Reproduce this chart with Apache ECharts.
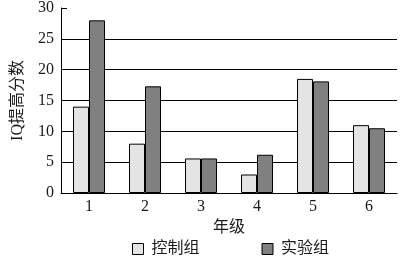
<!DOCTYPE html>
<html><head><meta charset="utf-8">
<script src="https://cdn.jsdelivr.net/npm/echarts@6/dist/echarts.min.js"></script>
<style>html,body{margin:0;padding:0;background:#fff}#c{width:402px;height:256px}</style>
</head><body><div id="c"></div>
<script>
const categories = ['1','2','3','4','5','6'];
const controlGroup = [14, 8, 5.6, 3, 18.5, 11];
const experimentGroup = [28, 17.3, 5.6, 6.2, 18.1, 10.5];
const seriesNames = ['控制组', '实验组'];
const FONT = "'Liberation Serif', 'Noto Sans CJK SC', serif";
const chart = echarts.init(document.getElementById('c'), null, {renderer:'canvas'});
chart.setOption({
  animation:false,
  backgroundColor:'#fff',
  textStyle:{fontFamily:FONT, color:'#1a1a1a'},
  grid:{left:61,right:5,top:7,bottom:63,containLabel:false},
  legend:{
    top:236, left:127,
    itemWidth:11, itemHeight:11, itemGap:62,
    icon:'rect',
    textStyle:{fontFamily:FONT, fontSize:16, color:'#1a1a1a', padding:[0,0,0,3]},
    itemStyle:{borderColor:'#000', borderWidth:1},
    data:seriesNames
  },
  xAxis:{
    type:'category', data:categories,
    name:'年级', nameLocation:'middle', nameGap:26,
    nameTextStyle:{fontFamily:FONT, fontSize:16, color:'#1a1a1a'},
    axisLine:{lineStyle:{color:'#000', width:1}},
    axisTick:{inside:true, length:5, lineStyle:{color:'#000'}},
    axisLabel:{fontFamily:FONT, fontSize:16, color:'#1a1a1a', margin:6},
    splitLine:{show:false}
  },
  yAxis:{
    type:'value', min:0, max:30, interval:5,
    name:'IQ提高分数', nameLocation:'middle', nameGap:35, nameRotate:90,
    nameTextStyle:{fontFamily:FONT, fontSize:16, color:'#1a1a1a'},
    axisLine:{show:true, lineStyle:{color:'#000', width:1}},
    axisTick:{show:true, inside:true, length:6, lineStyle:{color:'#000'}},
    axisLabel:{fontFamily:FONT, fontSize:16, color:'#1a1a1a', margin:7},
    splitLine:{show:true, lineStyle:{color:['#000','#000','#000','#000','#000','#000','transparent'], width:1}}
  },
  series:[
    {name:seriesNames[0], type:'bar', data:controlGroup, barWidth:16, barGap:'0%',
     itemStyle:{color:'#e4e4e4', borderColor:'#000', borderWidth:1}},
    {name:seriesNames[1], type:'bar', data:experimentGroup, barWidth:16, barGap:'0%',
     itemStyle:{color:'#808080', borderColor:'#000', borderWidth:1}}
  ]
});
</script></body></html>
